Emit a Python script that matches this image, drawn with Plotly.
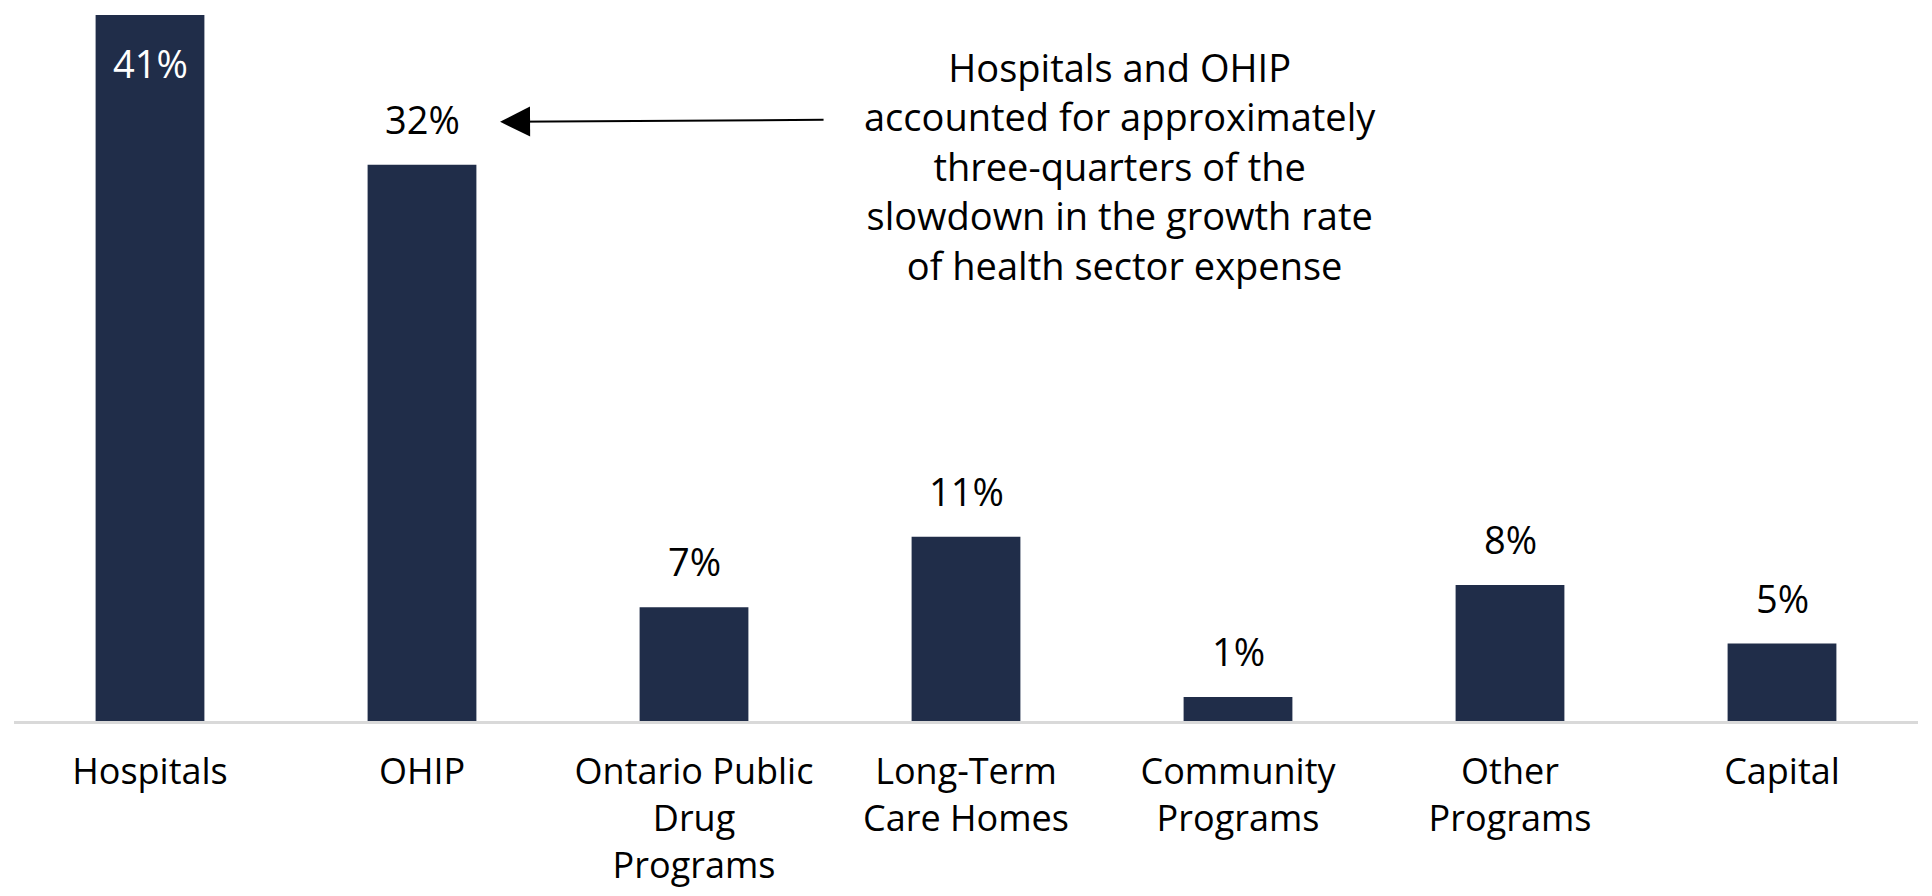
import plotly.graph_objects as go

# share of the slowdown in health sector expense growth, by program area
categories = ["Hospitals", "OHIP", "Ontario Public<br>Drug<br>Programs",
              "Long-Term<br>Care Homes", "Community<br>Programs",
              "Other<br>Programs", "Capital"]
shares = [41.0, 32.3, 6.6, 10.7, 1.4, 7.9, 4.5]
share_labels = ["41%", "32%", "7%", "11%", "1%", "8%", "5%"]

note = ("Hospitals and OHIP<br>accounted for approximately<br>three-quarters of the"
        "<br>slowdown in the growth rate<br> of health sector expense")

navy = "#202d49"
font = "Open Sans"

fig = go.Figure()
fig.add_trace(go.Bar(x=categories, y=shares, marker_color=navy,
                     marker_line_width=0, hoverinfo="x+y"))

# value labels: first one sits inside the bar, the rest above
for i, (cat, val, lab) in enumerate(zip(categories, shares, share_labels)):
    inside = i == 0
    fig.add_annotation(x=cat, y=val, text=lab, showarrow=False,
                       yanchor="middle", yshift=-48 if inside else 46,
                       font=dict(family=font, size=38,
                                 color="white" if inside else "black"))

# callout text and arrow pointing at the OHIP label
fig.add_annotation(x=0.5808, xref="paper", y=0.786, yref="paper", text=note,
                   showarrow=False, align="center",
                   xanchor="center", yanchor="middle",
                   font=dict(family=font, size=38, color="black"))
fig.add_annotation(x=1.287, y=34.8, text="", showarrow=True,
                   arrowhead=2, arrowsize=3, arrowwidth=2, arrowcolor="black",
                   ax=325, ay=-2, standoff=0)

# page body keeps an 8px margin, so the figure is sized to fit inside it
fig.update_layout(
    width=1916, height=880,
    margin=dict(l=6, r=6, t=7, b=167),
    paper_bgcolor="white", plot_bgcolor="white",
    bargap=0.6, showlegend=False,
    font=dict(family=font, size=38, color="black"),
)
fig.update_xaxes(showline=True, linecolor="#d9d9d9", linewidth=3,
                 ticks="", ticklabelstandoff=17, automargin=False,
                 tickfont=dict(family=font, size=36, color="black"),
                 showgrid=False)
fig.update_yaxes(range=[0, 41], visible=False, showgrid=False)

fig.write_html("out.html")
